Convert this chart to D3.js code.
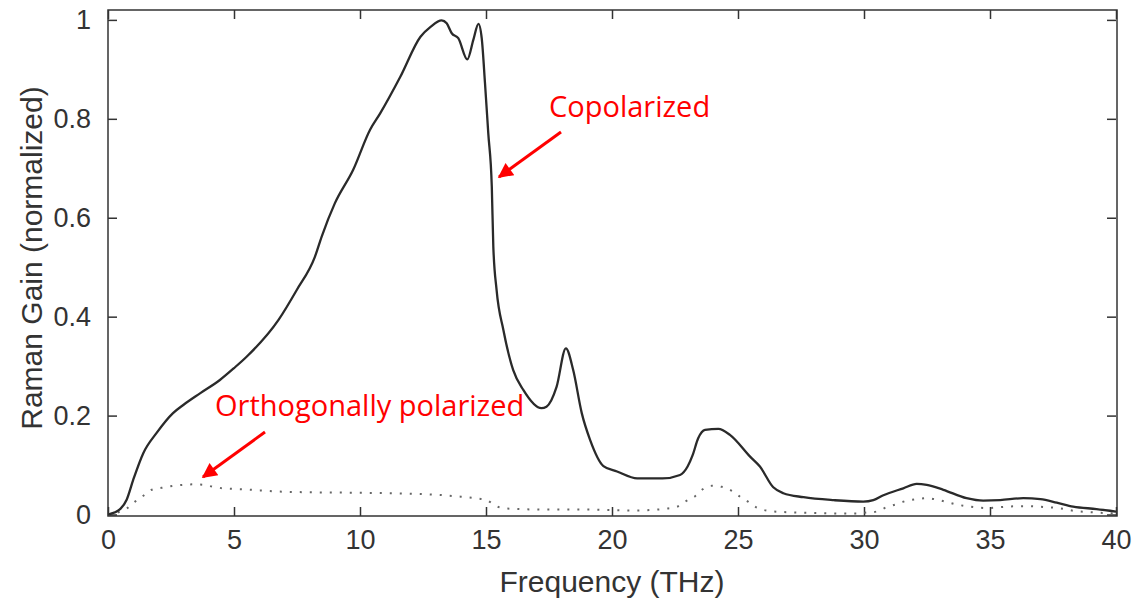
<!DOCTYPE html>
<html><head><meta charset="utf-8">
<script src="https://cdn.jsdelivr.net/npm/d3@7"></script>
<style>body{margin:0;background:#fff}svg{display:block}</style>
</head><body>
<svg id="chart" width="1132" height="600"></svg>
<script>
// Copolarized Raman gain (solid)
const coFreq = [0,0.5,0.74,1.0,1.4,1.93,2.58,3.0,3.65,4.44,5.0,5.5,6.76,7.49,8.21,8.48,9.0,9.73,10.4,10.8,11.6,12.4,12.8,13.24,13.44,13.64,13.9,14.26,14.5,14.7,14.83,14.96,15.09,15.23,15.29,15.42,15.69,16.08,16.48,17.2,17.4,17.8,18.17,18.46,18.8,19.13,19.66,20.2,21.0,22.0,22.7,23.0,23.2,23.42,23.69,24.22,24.68,25.48,25.87,26.4,26.8,27.6,28.8,29.97,30.37,30.77,31.56,32.09,32.49,33.15,34.07,34.73,35.4,36.32,37.0,37.65,38.3,39.23,40];
const coGain = [0,0.012,0.03,0.07,0.124,0.165,0.205,0.222,0.245,0.272,0.296,0.319,0.393,0.454,0.521,0.562,0.629,0.697,0.778,0.811,0.885,0.966,0.986,0.999,0.993,0.973,0.963,0.92,0.96,0.992,0.963,0.872,0.771,0.663,0.542,0.454,0.373,0.292,0.252,0.215,0.218,0.258,0.336,0.292,0.205,0.151,0.098,0.087,0.073,0.073,0.08,0.097,0.12,0.154,0.171,0.173,0.161,0.117,0.097,0.055,0.043,0.035,0.029,0.026,0.029,0.039,0.053,0.062,0.06,0.05,0.033,0.028,0.029,0.033,0.031,0.024,0.016,0.011,0.006];
// Orthogonally polarized Raman gain (dotted)
const orFreq = [0,0.21,0.74,1.07,1.4,1.73,2.13,2.6,2.99,3.39,3.79,4.18,4.58,5.37,6.96,8,10,12,13,14,14.7,15.03,15.4,15.82,17.4,19,20,21,21.5,22.17,22.6,22.9,23.3,23.6,23.96,24.35,24.75,25.08,25.4,25.74,26.14,26.8,29.7,30.1,30.5,30.9,31.3,31.7,32.1,32.5,32.9,33.3,33.7,34.2,34.9,35.7,36.5,36.9,37.7,38.4,39.2,40];
const orGain = [0,0.002,0.012,0.026,0.038,0.05,0.054,0.058,0.06,0.061,0.06,0.056,0.053,0.051,0.046,0.045,0.044,0.042,0.04,0.036,0.032,0.029,0.017,0.012,0.01,0.01,0.009,0.008,0.009,0.012,0.016,0.026,0.037,0.051,0.058,0.056,0.048,0.036,0.026,0.014,0.008,0.005,0.002,0.004,0.006,0.015,0.021,0.028,0.031,0.033,0.03,0.025,0.02,0.016,0.013,0.016,0.017,0.016,0.013,0.007,0.004,0.002];
const xTicks = [0,5,10,15,20,25,30,35,40];
const yTicks = [0,0.2,0.4,0.6,0.8,1];
const xLim = [0,40];
const yLim = [-0.003,1.02];

const svg = d3.select("#chart");
const L = 108, R = 1116, T = 10, B = 516;
const x = d3.scaleLinear().domain(xLim).range([L, R]);
const y = d3.scaleLinear().domain(yLim).range([B, T]);
const tickColor = "#333", tickLen = 9;
const fontAx = "Liberation Sans, Arial, Helvetica, sans-serif";

// axes (inside ticks, MATLAB box style)
const gB = svg.append("g").attr("transform", `translate(0,${B})`)
  .call(d3.axisBottom(x).tickValues(xTicks).tickSizeInner(-tickLen).tickSizeOuter(0).tickPadding(20).tickFormat(d3.format("d")));
const gT = svg.append("g").attr("transform", `translate(0,${T})`)
  .call(d3.axisTop(x).tickValues(xTicks).tickSizeInner(-tickLen).tickSizeOuter(0).tickFormat(""));
const gL = svg.append("g").attr("transform", `translate(${L},0)`)
  .call(d3.axisLeft(y).tickValues(yTicks).tickSizeInner(-tickLen).tickSizeOuter(0).tickPadding(17).tickFormat(d => d3.format("~g")(d)));
const gR = svg.append("g").attr("transform", `translate(${R},0)`)
  .call(d3.axisRight(y).tickValues(yTicks).tickSizeInner(-tickLen).tickSizeOuter(0).tickFormat(""));
[gB, gT, gL, gR].forEach(g => {
  g.select(".domain").remove();
  g.selectAll(".tick line").attr("stroke", tickColor).attr("stroke-width", 1.5);
  g.selectAll(".tick text").attr("fill", "#333").style("font-family", fontAx).style("font-size", "27px");
});
gB.selectAll(".tick text").attr("dy", "0.71em").attr("y", 14);

// frame
svg.append("rect").attr("x", L).attr("y", T).attr("width", R - L + 1).attr("height", B - T)
  .attr("fill", "none").attr("stroke", "#333").attr("stroke-width", 1.5);

// curves
const line = d3.line().x(d => x(d[0])).y(d => y(d[1])).curve(d3.curveMonotoneX);
svg.append("path").datum(orFreq.map((f, i) => [f, orGain[i]]))
  .attr("d", line).attr("fill", "none").attr("stroke", "#666").attr("stroke-width", 2)
  .attr("stroke-dasharray", "2,8");
svg.append("path").datum(coFreq.map((f, i) => [f, coGain[i]]))
  .attr("d", line).attr("fill", "none").attr("stroke", "#2a2a2a").attr("stroke-width", 2.3)
  .attr("stroke-linejoin", "round");

// axis labels
svg.append("text").attr("x", (L + R) / 2).attr("y", 592).attr("text-anchor", "middle")
  .attr("fill", "#333").style("font-family", fontAx).style("font-size", "30px").text("Frequency (THz)");
svg.append("text").attr("transform", "translate(42,258) rotate(-90)").attr("text-anchor", "middle")
  .attr("fill", "#333").style("font-family", fontAx).style("font-size", "30px").text("Raman Gain (normalized)");

// annotations
const defs = svg.append("defs");
defs.append("marker").attr("id", "ah").attr("viewBox", "0 0 10 10").attr("refX", 9).attr("refY", 5)
  .attr("markerWidth", 6).attr("markerHeight", 5).attr("markerUnits", "strokeWidth").attr("orient", "auto")
  .append("path").attr("d", "M0,0 L10,5 L0,10 z").attr("fill", "#ff0000");
const annFont = "'Open Sans', 'Noto Sans', sans-serif";
svg.append("text").attr("x", 549).attr("y", 117).attr("fill", "#ff0000")
  .style("font-family", annFont).style("font-size", "29px").text("Copolarized");
svg.append("line").attr("x1", 561).attr("y1", 132).attr("x2", 499).attr("y2", 177)
  .attr("stroke", "#ff0000").attr("stroke-width", 3).attr("marker-end", "url(#ah)");
svg.append("text").attr("x", 215).attr("y", 416).attr("fill", "#ff0000")
  .style("font-family", annFont).style("font-size", "29px").text("Orthogonally polarized");
svg.append("line").attr("x1", 265).attr("y1", 432).attr("x2", 203).attr("y2", 477)
  .attr("stroke", "#ff0000").attr("stroke-width", 3).attr("marker-end", "url(#ah)");
</script>
</body></html>
